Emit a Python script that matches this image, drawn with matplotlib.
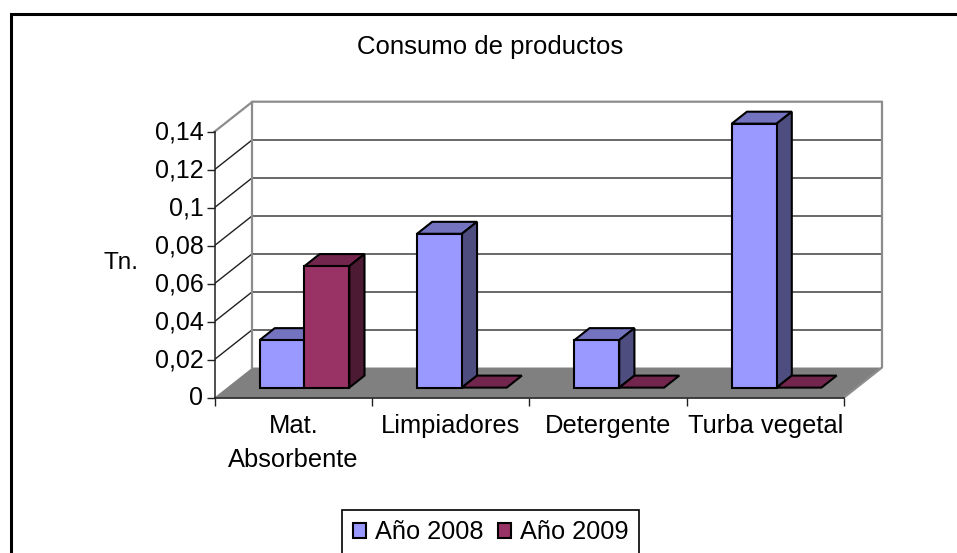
import matplotlib
matplotlib.use('Agg')
import matplotlib.pyplot as plt
from matplotlib.lines import Line2D
from matplotlib.patches import Polygon, Rectangle
from matplotlib.transforms import ScaledTranslation

plt.rcParams['font.family'] = ['Liberation Sans', 'DejaVu Sans']

categories = ['Mat.\nAbsorbente', 'Limpiadores', 'Detergente', 'Turba vegetal']
anio_2008 = [0.025, 0.081, 0.025, 0.139]
anio_2009 = [0.064, 0, 0, 0]
value_ticks = [0, 0.02, 0.04, 0.06, 0.08, 0.1, 0.12, 0.14]
value_labels = ['0', '0,02', '0,04', '0,06', '0,08', '0,1', '0,12', '0,14']
series_names = ['Año 2008', 'Año 2009']

W, H = 957, 553
# floor depth in data units (oblique view)
DX = 38 / 157.5
DY = 30 / 38 * 0.02
BAR_W = 0.285
GAP = 0.207
D0, D1 = 0.33, 0.73


def proj(x, y, d):
    return x + DX * d, y + DY * d


def bar3d(ax, x, val, front, top, side, z):
    corners = [(x, D0), (x + BAR_W, D0), (x + BAR_W, D1), (x, D1)]
    ax.add_patch(Polygon([proj(c[0], val, c[1]) for c in corners], closed=True,
                         fc=top, ec='black', lw=1.5, zorder=z, clip_on=False))
    if val > 0:
        ax.add_patch(Polygon([proj(x + BAR_W, 0, D0), proj(x + BAR_W, 0, D1),
                              proj(x + BAR_W, val, D1), proj(x + BAR_W, val, D0)], closed=True,
                             fc=side, ec='black', lw=1.5, zorder=z, clip_on=False))
        ax.add_patch(Polygon([proj(x, 0, D0), proj(x + BAR_W, 0, D0),
                              proj(x + BAR_W, val, D0), proj(x, val, D0)], closed=True,
                             fc=front, ec='black', lw=1.5, zorder=z + 0.5, clip_on=False))


fig = plt.figure(figsize=(W / 100, H / 100), dpi=100)
# outer frame is cut off by the picture on the right and at the bottom
fig.add_artist(Line2D([10.5 / W, 10.5 / W, 1], [0, 1 - 14 / H, 1 - 14 / H], color='black', lw=2.2,
                      solid_joinstyle='miter', zorder=-1))

ax = fig.add_axes([214.5 / W, 1 - 397.5 / H, (882 - 214.5) / W, (397.5 - 101.7) / H])
ax.set_xlim(0, 4 + DX)
ax.set_ylim(0, 0.14 + DY)
ax.patch.set_visible(False)
for s in ax.spines.values():
    s.set_visible(False)

# walls and floor
wall = '#8c8c8c'
ax.add_patch(Polygon([proj(0, 0, 0), proj(4, 0, 0), proj(4, 0, 1), proj(0, 0, 1)], closed=True,
                     fc='#808080', ec='none', zorder=1))
for v in value_ticks[1:-1]:
    ax.plot([proj(0, v, 1)[0], proj(4, v, 1)[0]], [proj(0, v, 1)[1]] * 2, color='#404040', lw=1.1, zorder=1)
    ax.plot([proj(0, v, 0)[0], proj(0, v, 1)[0]], [v, proj(0, v, 1)[1]], color='#202020', lw=1, zorder=1)
ax.plot(*zip(proj(0, 0.14, 0), proj(0, 0.14, 1), proj(4, 0.14, 1), proj(4, 0, 1), proj(4, 0, 0)),
        color=wall, lw=1.6, zorder=1.5, clip_on=False)
ax.plot(*zip(proj(0, 0.14, 1), proj(0, 0, 1)), color=wall, lw=1.6, zorder=1.5, clip_on=False)
ax.plot(*zip(proj(0, 0, 0), proj(0, 0.14, 0)), color='#202020', lw=1.1, zorder=1.5, clip_on=False)
ax.plot(*zip(proj(0, 0, 0), proj(4, 0, 0)), color='#202020', lw=1.2, zorder=1.5, clip_on=False)

for i in range(len(categories)):
    bar3d(ax, i + GAP, anio_2008[i], '#9999ff', '#7373c0', '#4d4d80', 3 + i)
    bar3d(ax, i + GAP + BAR_W, anio_2009[i], '#993366', '#73264d', '#4d1a33', 3 + i + 0.6)

ax.set_yticks(value_ticks, value_labels)
ax.tick_params(axis='y', length=6, width=1, color='#202020', labelsize=18, pad=2)
# reference labels sit a little higher than matplotlib centres them
up = ScaledTranslation(0, 2 / 100, fig.dpi_scale_trans)
for lab in ax.get_yticklabels():
    lab.set_transform(lab.get_transform() + up)
ax.set_xticks([i * 1.0 for i in range(5)], [''] * 5)
ax.tick_params(axis='x', which='major', length=6, width=1, color='#202020')
ax.set_xticks([i + 0.5 for i in range(4)], categories, minor=True)
ax.tick_params(axis='x', which='minor', length=0, labelsize=18.4, pad=12)
for lab in ax.get_xticklabels(minor=True):
    lab.set_linespacing(1.52)

fig.text(490 / W, 1 - 47 / H, 'Consumo de productos', ha='center', va='center', fontsize=18.5)
fig.text(121 / W, 1 - 263 / H, 'Tn.', ha='center', va='center', fontsize=17.5)

handles = [Rectangle((0, 0), 1, 1, fc='#9999ff', ec='black', lw=1.5),
           Rectangle((0, 0), 1, 1, fc='#993366', ec='black', lw=1.5)]
leg = fig.legend(handles, series_names, loc='lower left', bbox_to_anchor=(342 / W, 1 - 555 / H),
                 ncol=2, fontsize=18.3, handlelength=0.53, handleheight=0.55, handletextpad=0.35,
                 columnspacing=0.55, borderpad=0.42, borderaxespad=0, fancybox=False,
                 edgecolor='black', framealpha=1)
leg.get_frame().set_linewidth(1.2)

fig.savefig('out.png', dpi=100)
